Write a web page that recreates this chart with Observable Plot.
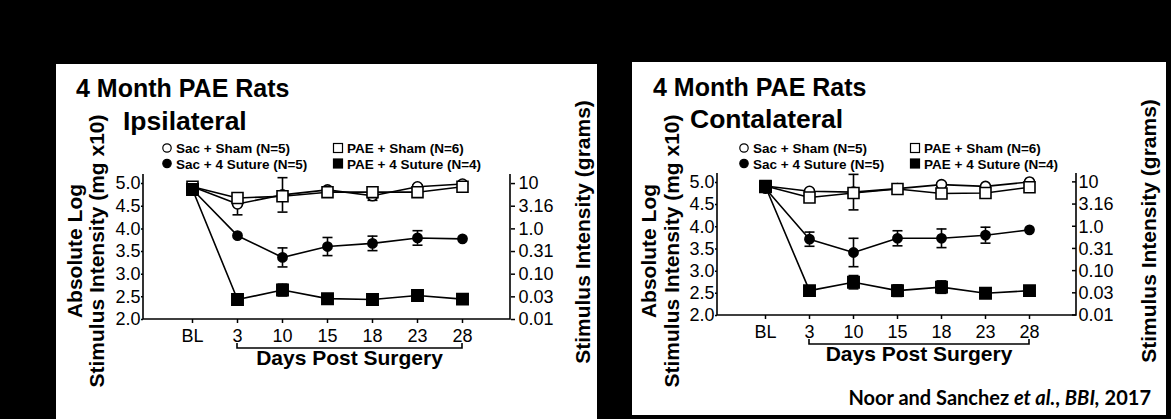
<!DOCTYPE html>
<html>
<head>
<meta charset="utf-8">
<script src="https://cdn.jsdelivr.net/npm/d3@7"></script>
<script src="https://cdn.jsdelivr.net/npm/@observablehq/plot@0.6"></script>
<style>
  html, body { margin:0; padding:0; background:#000; }
  body { width:1171px; height:419px; position:relative; overflow:hidden; }
  .panel { position:absolute; background:#fff; }
  .chart { position:absolute; }
  .chart svg { overflow: visible; }
  #overlay { position:absolute; left:0; top:0; }
</style>
</head>
<body>
<script>
// ---------- data ----------
const days = ["BL", "3", "10", "15", "18", "23", "28"];
const leftTicks = [2.0, 2.5, 3.0, 3.5, 4.0, 4.5, 5.0];
const gramLabels = ["0.01", "0.03", "0.10", "0.31", "1.0", "3.16", "10"];
const groupNames = ["Sac + Sham (N=5)", "Sac + 4 Suture (N=5)", "PAE + Sham (N=6)", "PAE + 4 Suture (N=4)"];
const panelTitle = "4 Month PAE Rats";
const sideNames = ["Ipsilateral", "Contalateral"];
const xTitle = "Days Post Surgery";
const yTitleLines = ["Absolute Log", "Stimulus Intensity (mg x10)"];
const y2Title = "Stimulus Intensity (grams)";

// Ipsilateral
const ipsiSacSham      = [4.93, 4.55, 4.75, 4.86, 4.73, 4.93, 4.99];
const ipsiSacShamSem   = [0.03, 0.24, 0.38, 0.05, 0.10, 0.04, 0.03];
const ipsiSacSuture    = [4.87, 3.85, 3.37, 3.61, 3.68, 3.80, 3.78];
const ipsiSacSutureSem = [0.02, 0.03, 0.21, 0.20, 0.16, 0.16, 0.02];
const ipsiPaeSham      = [4.93, 4.68, 4.72, 4.81, 4.81, 4.81, 4.93];
const ipsiPaeShamSem   = [0.03, 0.06, 0.10, 0.04, 0.06, 0.05, 0.03];
const ipsiPaeSuture    = [4.87, 2.44, 2.65, 2.46, 2.44, 2.53, 2.45];
const ipsiPaeSutureSem = [0.02, 0.03, 0.13, 0.03, 0.03, 0.03, 0.03];

// Contralateral
const contraSacSham      = [4.92, 4.80, 4.78, 4.86, 4.95, 4.91, 5.01];
const contraSacShamSem   = [0.02, 0.03, 0.40, 0.03, 0.03, 0.03, 0.03];
const contraSacSuture    = [4.86, 3.72, 3.42, 3.74, 3.74, 3.81, 3.93];
const contraSacSutureSem = [0.02, 0.16, 0.32, 0.17, 0.21, 0.18, 0.02];
const contraPaeSham      = [4.92, 4.66, 4.76, 4.85, 4.75, 4.76, 4.89];
const contraPaeShamSem   = [0.02, 0.04, 0.05, 0.03, 0.04, 0.04, 0.04];
const contraPaeSuture    = [4.90, 2.56, 2.75, 2.56, 2.64, 2.50, 2.56];
const contraPaeSutureSem = [0.02, 0.04, 0.15, 0.13, 0.14, 0.03, 0.06];

const caption = [
  {t: "Noor and Sanchez ", style: "normal", weight: "bold"},
  {t: "et al.", style: "italic", weight: "bold"},
  {t: ", ", style: "normal", weight: "bold"},
  {t: "BBI,", style: "italic", weight: "bold"},
  {t: " 2017", style: "normal", weight: "bold"}
];

// ---------- helpers ----------
const FONT = "'Liberation Sans', Arial, Helvetica, sans-serif";
const groupStyle = [
  {symbol: "circle", open: true,  r: 5},
  {symbol: "circle", open: false, r: 4.6},
  {symbol: "square", open: true,  r: 6.2},
  {symbol: "square", open: false, r: 6.4}
];
const capSymbol = {draw(context) { context.moveTo(-5, 0); context.lineTo(5, 0); }};

function rows(valuesList, semList) {
  const out = [];
  valuesList.forEach((vals, g) => vals.forEach((v, i) => out.push({
    group: groupNames[g], gi: g, day: days[i], value: v, lo: v - semList[g][i], hi: v + semList[g][i]
  })));
  return out;
}

const panels = [
  {
    box: [56, 64, 541, 355],
    margins: {left: 87, right: 87, top: 110, bottom: 75},
    pad: 1.05,
    data: rows([ipsiSacSham, ipsiSacSuture, ipsiPaeSham, ipsiPaeSuture],
               [ipsiSacShamSem, ipsiSacSutureSem, ipsiPaeShamSem, ipsiPaeSutureSem]),
    title: [76, 97], side: [sideNames[0], 123, 130],
    legend: {x1: 167, x2: 338, y1: 153, y2: 168.5},
    yTitleX: [82, 104], yTitleY: 251, y2TitleX: 590, y2TitleY: 232,
    rightTick: {size: 4, pad: 4, inward: false}
  },
  {
    box: [632, 62, 534, 353],
    margins: {left: 85, right: 90, top: 111, bottom: 77},
    pad: 1.0,
    data: rows([contraSacSham, contraSacSuture, contraPaeSham, contraPaeSuture],
               [contraSacShamSem, contraSacSutureSem, contraPaeShamSem, contraPaeSutureSem]),
    title: [653, 96], side: [sideNames[1], 690, 128],
    legend: {x1: 744, x2: 915, y1: 153, y2: 168.5},
    yTitleX: [656, 679], yTitleY: 251, y2TitleX: 1156, y2TitleY: 231,
    rightTick: {size: 0, pad: 2, inward: true},
    caption: [1151, 405]
  }
];

const overlay = d3.select("body").append("svg")
  .attr("id", "overlay").attr("width", 1171).attr("height", 419)
  .style("font-family", FONT);

panels.forEach((p) => {
  const [bx, by, bw, bh] = p.box;
  d3.select("body").insert("div", "#overlay").attr("class", "panel")
    .style("left", bx + "px").style("top", by + "px")
    .style("width", bw + "px").style("height", bh + "px");

  const H = 330;
  const {left: mL, right: mR, top: mT, bottom: mB} = p.margins;
  const errs = p.data.filter(d => d.hi - d.lo > 0.06);

  const frameMark = (index, scales, values, dims) => {
    const {x, y} = scales;
    const g = d3.create("svg:g");
    const L = dims.marginLeft, R = dims.width - dims.marginRight;
    const T = dims.marginTop, B = dims.height - dims.marginBottom;
    g.append("path")
      .attr("d", `M${L},${T}V${B}H${R}V${T}`)
      .attr("fill", "none").attr("stroke", "#000").attr("stroke-width", 1.6);
    if (p.rightTick.inward) {
      leftTicks.forEach(t => g.append("path")
        .attr("d", `M${R},${y(t)}h-4`).attr("stroke", "#000").attr("stroke-width", 1.5));
    }
    const xa = x(days[1]), xb = x(days[days.length - 1]);
    const yb = y(2) + 29;
    g.append("path")
      .attr("d", `M${xa},${yb - 5}V${yb}H${xb}V${yb - 5}`)
      .attr("fill", "none").attr("stroke", "#000").attr("stroke-width", 1.6);
    g.append("text")
      .attr("x", (xa + xb) / 2).attr("y", y(2) + 46)
      .attr("text-anchor", "middle")
      .attr("font-weight", "bold").attr("font-size", 21)
      .attr("fill", "#000")
      .text(xTitle);
    return g.node();
  };

  const marks = [
    Plot.axisX({ticks: days, tickSize: 4, tickPadding: 6, label: null, strokeWidth: 1.5}),
    Plot.axisY({ticks: leftTicks, tickFormat: d3.format(".1f"), tickSize: 2, tickPadding: 1, label: null, strokeWidth: 1.5}),
    Plot.axisY({anchor: "right", ticks: leftTicks, tickFormat: d => gramLabels[leftTicks.indexOf(d)],
                tickSize: p.rightTick.size, tickPadding: p.rightTick.pad, label: null, strokeWidth: 1.5}),
    frameMark,
    Plot.line(p.data, {x: "day", y: "value", z: "group", stroke: "#000", strokeWidth: 1.6}),
    Plot.ruleX(errs, {x: "day", y1: "lo", y2: "hi", stroke: "#000", strokeWidth: 1.6}),
    Plot.dot(errs, {x: "day", y: "hi", symbol: capSymbol, fill: "none", stroke: "#000", strokeWidth: 1.6}),
    Plot.dot(errs, {x: "day", y: "lo", symbol: capSymbol, fill: "none", stroke: "#000", strokeWidth: 1.6})
  ];
  [0, 2, 1, 3].forEach(gi => {
    const s = groupStyle[gi];
    marks.push(Plot.dot(p.data.filter(d => d.gi === gi), {
      x: "day", y: "value", symbol: s.symbol, r: s.r,
      fill: s.open ? "#fff" : "#000", stroke: "#000", strokeWidth: 1.6
    }));
  });

  const chart = Plot.plot({
    width: bw, height: H,
    marginLeft: mL, marginRight: mR, marginTop: mT, marginBottom: mB,
    x: {type: "point", domain: days, padding: p.pad, axis: null},
    y: {domain: [2, 5.2], axis: null},
    style: {fontFamily: FONT, fontSize: "18px", color: "#000", background: "transparent", overflow: "visible"},
    marks
  });
  d3.select("body").insert("div", "#overlay").attr("class", "chart")
    .style("left", bx + "px").style("top", by + "px")
    .node().appendChild(chart);

  // titles
  overlay.append("text").attr("x", p.title[0]).attr("y", p.title[1])
    .attr("font-size", 25).attr("font-weight", "bold").text(panelTitle);
  overlay.append("text").attr("x", p.side[1]).attr("y", p.side[2])
    .attr("font-size", 26.5).attr("font-weight", "bold").text(p.side[0]);

  // legend
  const lg = p.legend;
  const entries = [
    {gi: 0, x: lg.x1, y: lg.y1}, {gi: 1, x: lg.x1, y: lg.y2},
    {gi: 2, x: lg.x2, y: lg.y1}, {gi: 3, x: lg.x2, y: lg.y2}
  ];
  entries.forEach(e => {
    const s = groupStyle[e.gi];
    const cy = e.y - 5;
    if (s.symbol === "circle") {
      overlay.append("circle").attr("cx", e.x).attr("cy", cy).attr("r", 4.2)
        .attr("fill", s.open ? "#fff" : "#000").attr("stroke", "#000").attr("stroke-width", 1.2);
    } else {
      overlay.append("rect").attr("x", e.x - 4.5).attr("y", cy - 4.5).attr("width", 9).attr("height", 9)
        .attr("fill", s.open ? "#fff" : "#000").attr("stroke", "#000").attr("stroke-width", 1.2);
    }
    overlay.append("text").attr("x", e.x + 9).attr("y", e.y)
      .attr("font-size", 13.5).attr("font-weight", "bold").text(groupNames[e.gi]);
  });

  // y titles (rotated)
  yTitleLines.forEach((line, k) => {
    overlay.append("text")
      .attr("transform", `translate(${p.yTitleX[k]},${p.yTitleY}) rotate(-90)`)
      .attr("text-anchor", "middle").attr("font-size", 21).attr("font-weight", "bold")
      .text(line);
  });
  overlay.append("text")
    .attr("transform", `translate(${p.y2TitleX},${p.y2TitleY}) rotate(-90)`)
    .attr("text-anchor", "middle").attr("font-size", 21).attr("font-weight", "bold")
    .text(y2Title);

  if (p.caption) {
    const t = overlay.append("text").attr("x", p.caption[0]).attr("y", p.caption[1])
      .attr("text-anchor", "end").attr("font-size", 20)
      .style("font-family", "Lato, 'Open Sans', sans-serif");
    caption.forEach(c => t.append("tspan").attr("font-style", c.style).attr("font-weight", c.weight).text(c.t));
  }
});
</script>
</body>
</html>
